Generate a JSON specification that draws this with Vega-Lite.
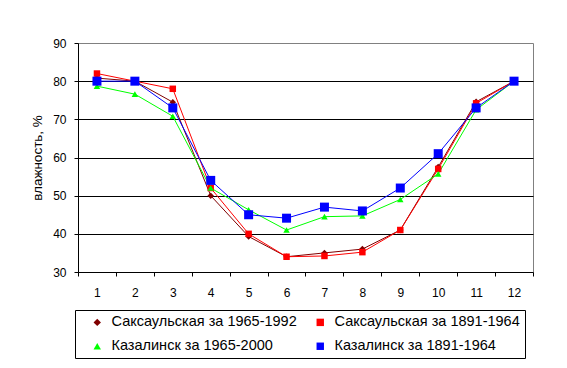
{
  "$schema": "https://vega.github.io/schema/vega-lite/v6.json",
  "width": 455,
  "height": 229,
  "autosize": {"type": "none"},
  "padding": {"left": 78, "top": 43, "right": 34, "bottom": 96},
  "background": "white",
  "config": {
    "font": "Liberation Sans",
    "view": {"stroke": "#808080", "strokeWidth": 1},
    "axis": {"labelFont": "Liberation Sans", "titleFont": "Liberation Sans", "labelColor": "black", "titleColor": "black", "domainColor": "black", "tickColor": "black", "domainWidth": 1, "tickWidth": 1}
  },
  "data": {
    "values": [
      {"s": "Саксаульская за 1965-1992", "m": 1, "v": 80.8},
      {"s": "Саксаульская за 1965-1992", "m": 2, "v": 80},
      {"s": "Саксаульская за 1965-1992", "m": 3, "v": 74.5},
      {"s": "Саксаульская за 1965-1992", "m": 4, "v": 50},
      {"s": "Саксаульская за 1965-1992", "m": 5, "v": 39.3},
      {"s": "Саксаульская за 1965-1992", "m": 6, "v": 34},
      {"s": "Саксаульская за 1965-1992", "m": 7, "v": 35},
      {"s": "Саксаульская за 1965-1992", "m": 8, "v": 36},
      {"s": "Саксаульская за 1965-1992", "m": 9, "v": 41},
      {"s": "Саксаульская за 1965-1992", "m": 10, "v": 57.5},
      {"s": "Саксаульская за 1965-1992", "m": 11, "v": 74.6},
      {"s": "Саксаульская за 1965-1992", "m": 12, "v": 80},
      {"s": "Саксаульская за 1891-1964", "m": 1, "v": 82},
      {"s": "Саксаульская за 1891-1964", "m": 2, "v": 80},
      {"s": "Саксаульская за 1891-1964", "m": 3, "v": 78},
      {"s": "Саксаульская за 1891-1964", "m": 4, "v": 52},
      {"s": "Саксаульская за 1891-1964", "m": 5, "v": 40},
      {"s": "Саксаульская за 1891-1964", "m": 6, "v": 34},
      {"s": "Саксаульская за 1891-1964", "m": 7, "v": 34.2},
      {"s": "Саксаульская за 1891-1964", "m": 8, "v": 35.2},
      {"s": "Саксаульская за 1891-1964", "m": 9, "v": 41},
      {"s": "Саксаульская за 1891-1964", "m": 10, "v": 57},
      {"s": "Саксаульская за 1891-1964", "m": 11, "v": 74.2},
      {"s": "Саксаульская за 1891-1964", "m": 12, "v": 80},
      {"s": "Казалинск за 1965-2000", "m": 1, "v": 78.7},
      {"s": "Казалинск за 1965-2000", "m": 2, "v": 76.6},
      {"s": "Казалинск за 1965-2000", "m": 3, "v": 70.8},
      {"s": "Казалинск за 1965-2000", "m": 4, "v": 52},
      {"s": "Казалинск за 1965-2000", "m": 5, "v": 46.3},
      {"s": "Казалинск за 1965-2000", "m": 6, "v": 41},
      {"s": "Казалинск за 1965-2000", "m": 7, "v": 44.5},
      {"s": "Казалинск за 1965-2000", "m": 8, "v": 44.7},
      {"s": "Казалинск за 1965-2000", "m": 9, "v": 49},
      {"s": "Казалинск за 1965-2000", "m": 10, "v": 55.7},
      {"s": "Казалинск за 1965-2000", "m": 11, "v": 72.5},
      {"s": "Казалинск за 1965-2000", "m": 12, "v": 80},
      {"s": "Казалинск за 1891-1964", "m": 1, "v": 80},
      {"s": "Казалинск за 1891-1964", "m": 2, "v": 80},
      {"s": "Казалинск за 1891-1964", "m": 3, "v": 73},
      {"s": "Казалинск за 1891-1964", "m": 4, "v": 54},
      {"s": "Казалинск за 1891-1964", "m": 5, "v": 45},
      {"s": "Казалинск за 1891-1964", "m": 6, "v": 44.1},
      {"s": "Казалинск за 1891-1964", "m": 7, "v": 47},
      {"s": "Казалинск за 1891-1964", "m": 8, "v": 46},
      {"s": "Казалинск за 1891-1964", "m": 9, "v": 52},
      {"s": "Казалинск за 1891-1964", "m": 10, "v": 61},
      {"s": "Казалинск за 1891-1964", "m": 11, "v": 73},
      {"s": "Казалинск за 1891-1964", "m": 12, "v": 80}
    ]
  },
  "resolve": {"legend": {"color": "independent", "shape": "independent", "size": "independent"}},
  "encoding": {
    "x": {
      "field": "m", "type": "ordinal",
      "scale": {"type": "band", "paddingInner": 0, "paddingOuter": 0},
      "axis": {"title": null, "labelAngle": 0, "tickBand": "extent", "tickSize": 4, "labelPadding": 11, "labelFontSize": 12, "grid": false}
    },
    "y": {
      "field": "v", "type": "quantitative",
      "scale": {"domain": [30, 90], "nice": false, "zero": false},
      "axis": {
        "title": "влажность, %", "titleFontSize": 13.5, "titleFontWeight": "normal", "titlePadding": 8,
        "values": [30, 40, 50, 60, 70, 80, 90], "tickSize": 4, "labelPadding": 8, "labelFontSize": 12,
        "grid": true, "gridColor": "black", "gridWidth": 1,
        "gridOpacity": {"condition": {"test": "datum.value === 90 || datum.value === 30", "value": 0}, "value": 1}
      }
    }
  },
  "layer": [
    {
      "mark": {"type": "line", "strokeWidth": 1},
      "encoding": {
        "color": {
          "field": "s", "type": "nominal", "legend": null,
          "scale": {
            "domain": ["Саксаульская за 1965-1992", "Саксаульская за 1891-1964", "Казалинск за 1965-2000", "Казалинск за 1891-1964"],
            "range": ["#800000", "#FF0000", "#00FF00", "#0000FF"]
          }
        }
      }
    },
    {
      "mark": {"type": "point", "filled": true, "opacity": 1, "size": 42},
      "encoding": {
        "color": {
          "field": "s", "type": "nominal",
          "scale": {
            "domain": ["Саксаульская за 1965-1992", "Саксаульская за 1891-1964", "Казалинск за 1965-2000", "Казалинск за 1891-1964"],
            "range": ["#800000", "#FF0000", "#00FF00", "#0000FF"]
          },
          "legend": {
            "orient": "none", "legendX": -3, "legendY": 267, "columns": 2, "direction": "horizontal", "title": null,
            "labelFont": "Liberation Sans", "labelFontSize": 14.5, "labelColor": "black", "labelLimit": 400,
            "strokeColor": "black", "padding": 5, "rowPadding": 9, "columnPadding": 6,
            "symbolSize": 55, "symbolOffset": 10, "labelOffset": 7, "symbolStrokeWidth": 0
          }
        },
        "shape": {
          "field": "s", "type": "nominal", "legend": null,
          "scale": {
            "domain": ["Саксаульская за 1965-1992", "Саксаульская за 1891-1964", "Казалинск за 1965-2000", "Казалинск за 1891-1964"],
            "range": ["diamond", "square", "triangle-up", "square"]
          }
        }
      }
    },
    {
      "transform": [{"filter": "datum.s === 'Казалинск за 1891-1964'"}],
      "mark": {"type": "point", "filled": true, "opacity": 1, "size": 81, "shape": "square", "color": "#0000FF"},
      "encoding": {}
    }
  ]
}
